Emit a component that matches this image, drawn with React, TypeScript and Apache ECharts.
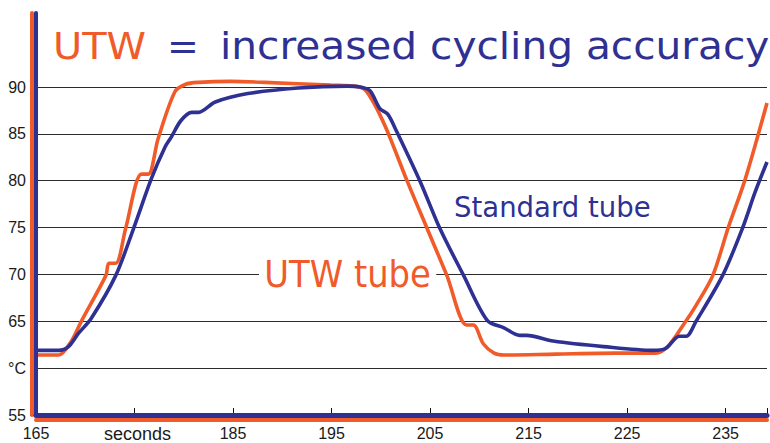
import React, { useEffect, useRef } from "react";
import * as echarts from "echarts";

const ORANGE = "#F15A29";
const BLUE = "#2E3192";
const GRID = "#2b2b2b";

// UTW tube (orange)
const utwTime = [165, 167.3, 168.6, 169.6, 172.1, 172.4, 173.1, 174.1, 175.7, 176.4, 177.4, 179.1, 180.2, 181.5, 184.8, 188.2, 194.9, 197.3, 198.3, 198.9, 199.6, 200.7, 202.7, 204.7, 206.7, 208.7, 209.4, 210.4, 211.5, 212.5, 217.8, 223.9, 227.9, 229.2, 230.7, 232.0, 233.7, 235.3, 237.0, 239.2];
const utwTemp = [61.4, 61.4, 62.9, 65.0, 69.9, 71.2, 71.2, 74.9, 80.7, 80.7, 84.5, 89.5, 90.3, 90.5, 90.6, 90.5, 90.2, 90.1, 89.8, 89.0, 87.7, 85.2, 79.9, 74.9, 69.9, 64.6, 64.6, 62.6, 61.6, 61.4, 61.5, 61.6, 61.6, 62.4, 64.6, 66.7, 69.9, 75.1, 80.2, 88.3];

// Standard tube (blue)
const stdTime = [165, 167.3, 168.3, 169.3, 170.6, 173.1, 174.9, 176.7, 178.1, 178.7, 179.7, 180.8, 181.5, 183.2, 186.5, 191.6, 196.6, 197.9, 198.9, 199.9, 200.7, 201.5, 204.0, 206.0, 208.4, 210.8, 212.5, 214.1, 214.8, 217.5, 222.6, 227.6, 228.9, 230.3, 231.0, 232.0, 234.7, 236.7, 238.0, 239.2];
const stdTemp = [61.9, 61.9, 62.3, 63.7, 65.3, 69.9, 74.9, 80.2, 83.6, 84.6, 86.4, 87.3, 87.3, 88.4, 89.3, 89.9, 90.1, 90.0, 89.6, 87.7, 87.1, 85.5, 79.9, 74.9, 69.9, 65.1, 64.3, 63.5, 63.5, 62.9, 62.3, 61.9, 62.1, 63.4, 63.4, 65.0, 69.9, 74.9, 78.8, 82.0];

const xTickValues = [165, 175, 185, 195, 205, 215, 225, 235];
const yTickValues = [55, 60, 65, 70, 75, 80, 85, 90];
const xUnitLabel = "seconds"; // shown at 175
const yUnitLabel = "°C"; // shown at 60

const X_MIN = 165;
const X_MAX = 239.2;
const Y_MIN = 55;
const Y_MAX = 97.9;

const TITLE_FONT = "DejaVu Sans";
const LABEL_FONT = "Liberation Sans, Arial, sans-serif";

export default function App() {
  const ref = useRef<HTMLDivElement>(null);

  useEffect(() => {
    if (!ref.current) return;
    const chart = echarts.init(ref.current, null, { renderer: "svg" });

    const zip = (xs: number[], ys: number[]) => xs.map((x, i) => [x, ys[i]]);

    const hiddenAxisParts = {
      axisTick: { show: false },
      axisLabel: { show: false },
      splitLine: { show: false },
    };

    chart.setOption({
      animation: false,
      backgroundColor: "#ffffff",
      grid: { left: 36, right: 0, top: 13, bottom: 25, containLabel: false },
      xAxis: [
        {
          type: "value",
          min: X_MIN,
          max: X_MAX,
          interval: 10,
          z: 0,
          axisLine: { show: false },
          axisTick: { show: true, inside: true, length: 7, lineStyle: { color: "#111", width: 1 } },
          axisLabel: {
            margin: 10,
            color: "#1a1a1a",
            fontSize: 16,
            fontFamily: LABEL_FONT,
            formatter: (v: number) =>
              v === 175 ? "{u|" + xUnitLabel + "}" : xTickValues.includes(v) ? String(v) : "",
            rich: {
              u: { fontSize: 18, fontFamily: LABEL_FONT, color: "#1a1a1a", padding: [0, 0, 0, 6] },
            },
          },
          splitLine: { show: false },
        },
        {
          type: "value",
          min: X_MIN,
          max: X_MAX,
          position: "bottom",
          offset: 0,
          z: 6,
          axisLine: { show: true, lineStyle: { color: BLUE, width: 5 } },
          ...hiddenAxisParts,
        },
        {
          type: "value",
          min: X_MIN,
          max: X_MAX,
          position: "bottom",
          offset: 4.5,
          z: 5,
          axisLine: { show: true, lineStyle: { color: ORANGE, width: 4 } },
          ...hiddenAxisParts,
        },
      ],
      yAxis: [
        {
          type: "value",
          min: Y_MIN,
          max: Y_MAX,
          interval: 5,
          z: 0,
          position: "left",
          axisLine: { show: false },
          axisTick: {
            show: true,
            length: 6,
            customValues: yTickValues,
            lineStyle: { color: GRID, width: 1 },
          },
          axisLabel: {
            customValues: yTickValues,
            margin: 10,
            color: "#1a1a1a",
            fontSize: 16,
            fontFamily: LABEL_FONT,
            formatter: (v: number) => (v === 60 ? yUnitLabel : yTickValues.includes(v) ? String(v) : ""),
          },
          splitLine: {
            show: true,
            lineStyle: {
              color: [GRID, GRID, GRID, GRID, GRID, GRID, GRID, GRID, "rgba(0,0,0,0)", "rgba(0,0,0,0)"],
              width: 1,
            },
          },
        },
        {
          type: "value",
          min: Y_MIN,
          max: Y_MAX,
          position: "left",
          offset: 0,
          z: 6,
          axisLine: { show: true, lineStyle: { color: BLUE, width: 4 } },
          ...hiddenAxisParts,
        },
        {
          type: "value",
          min: Y_MIN,
          max: Y_MAX,
          position: "left",
          offset: 4.3,
          z: 5,
          axisLine: { show: true, lineStyle: { color: ORANGE, width: 4 } },
          ...hiddenAxisParts,
        },
      ],
      series: [
        {
          name: "UTW tube",
          type: "line",
          xAxisIndex: 0,
          yAxisIndex: 0,
          data: zip(utwTime, utwTemp),
          showSymbol: false,
          symbol: "none",
          smooth: 0.3,
          lineStyle: { color: ORANGE, width: 3.6 },
          z: 2,
        },
        {
          name: "Standard tube",
          type: "line",
          xAxisIndex: 0,
          yAxisIndex: 0,
          data: zip(stdTime, stdTemp),
          showSymbol: false,
          symbol: "none",
          smooth: 0.3,
          lineStyle: { color: BLUE, width: 3.6 },
          z: 3,
        },
      ],
      graphic: [
        {
          type: "text",
          x: 53,
          y: 45.5,
          scaleX: 1.05,
          z: 10,
          style: { text: "UTW", fill: ORANGE, fontSize: 38, fontFamily: TITLE_FONT, verticalAlign: "middle" },
        },
        {
          type: "text",
          x: 167,
          y: 45.5,
          z: 10,
          style: { text: "=", fill: BLUE, fontSize: 38, fontFamily: TITLE_FONT, verticalAlign: "middle" },
        },
        {
          type: "text",
          x: 220,
          y: 45.5,
          scaleX: 1.07,
          z: 10,
          style: {
            text: "increased cycling accuracy",
            fill: BLUE,
            fontSize: 38,
            fontFamily: TITLE_FONT,
            verticalAlign: "middle",
          },
        },
        {
          type: "text",
          x: 259,
          y: 274,
          scaleX: 0.89,
          z: 10,
          style: {
            text: "UTW tube",
            fill: ORANGE,
            fontSize: 38,
            fontFamily: TITLE_FONT,
            verticalAlign: "middle",
            backgroundColor: "#ffffff",
            padding: [0, 6],
          },
        },
        {
          type: "text",
          x: 454,
          y: 207,
          scaleX: 0.95,
          z: 10,
          style: {
            text: "Standard tube",
            fill: BLUE,
            fontSize: 29,
            fontFamily: TITLE_FONT,
            verticalAlign: "middle",
          },
        },
      ],
    });

    return () => chart.dispose();
  }, []);

  return (
    <div
      ref={ref}
      style={{ position: "absolute", left: 0, top: 0, width: 770, height: 443, background: "#fff" }}
    />
  );
}
